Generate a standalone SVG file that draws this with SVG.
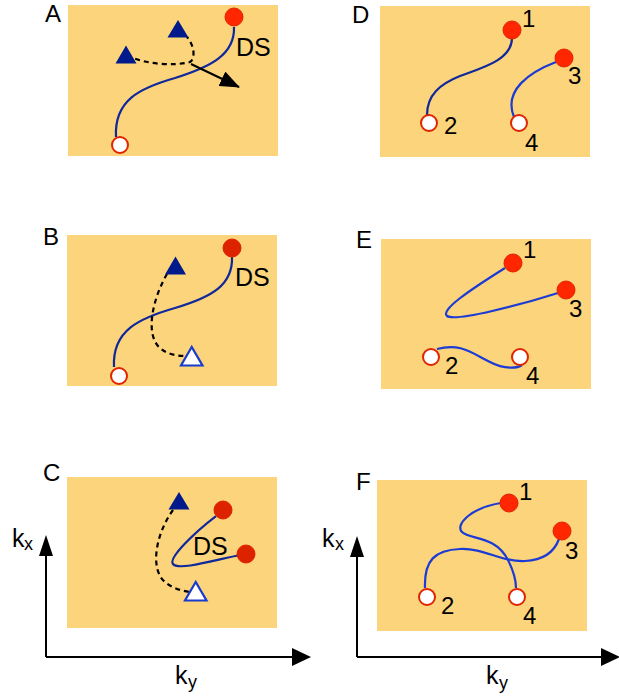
<svg xmlns="http://www.w3.org/2000/svg" width="619" height="698" viewBox="0 0 619 698">
<style>
.bg{fill:#fbd47c}
.lbl{font-family:"Liberation Sans",Arial,sans-serif;font-size:24px;fill:#000}
.num{font-family:"Liberation Sans",Arial,sans-serif;font-size:24px;fill:#000}
.ds{font-family:"Liberation Sans",Arial,sans-serif;font-size:25px;fill:#000}
.ax{font-family:"Liberation Sans",Arial,sans-serif;font-size:25px;fill:#000}
.sub{font-family:"Liberation Sans",Arial,sans-serif;font-size:18px;fill:#000}
.cv{fill:none;stroke:#10289a;stroke-width:2.2}
.cv2{fill:none;stroke:#1b3bd4;stroke-width:2.2}
.dash{fill:none;stroke:#000;stroke-width:2.2;stroke-dasharray:5 4}
.full{fill:#ff2600;stroke:#e02400;stroke-width:1}
.fullB{fill:#dd2200;stroke:#dd2200;stroke-width:1}
.open{fill:#fff;stroke:#e02400;stroke-width:2}
.tri{fill:#001a8c}
.otri{fill:#fff;stroke:#1a3acc;stroke-width:2.2}
.axis{stroke:#000;stroke-width:2;fill:none}
</style>
<defs>
<marker id="arr" viewBox="0 0 20 16" refX="19" refY="8" markerWidth="20" markerHeight="16" markerUnits="userSpaceOnUse" orient="auto">
<path d="M0,0 L20,8 L0,16 Z" fill="#000"/>
</marker>
</defs>

<g id="panelA">
<rect class="bg" x="68" y="5" width="210" height="151"/>
<text class="lbl" x="45" y="22">A</text>
<path class="cv" d="M116,137 C114,100 140,88 175,78 C210,67 235,55 234,27"/>
<path class="dash" d="M127,55 C145,65 175,66 190,62 C196,58 194,45 187,37"/>
<line x1="191" y1="64" x2="239" y2="87" stroke="#000" stroke-width="2" marker-end="url(#arr)"/>
<polygon class="tri" points="178,20 167.5,37.5 188.5,37.5"/>
<polygon class="tri" points="126,45.5 115.5,63.5 136.5,63.5"/>
<circle class="full" cx="234" cy="17" r="9"/>
<circle class="open" cx="120" cy="145" r="8"/>
<text class="ds" x="236" y="56">DS</text>
</g>

<g id="panelB">
<rect class="bg" x="67" y="235" width="210" height="151"/>
<text class="lbl" x="43" y="245">B</text>
<path class="cv" d="M114,367 C112,330 140,318 175,308 C212,297 233,285 232,257"/>
<path class="dash" d="M167,274 C152,300 145,335 160,348 C168,355 178,356 187,356"/>
<polygon class="tri" points="175.5,256.5 165,274.5 186,274.5"/>
<polygon class="otri" points="191.7,347 181,365.5 202.5,365.5"/>
<circle class="fullB" cx="232" cy="248" r="9"/>
<circle class="open" cx="119" cy="376" r="8"/>
<text class="ds" x="235" y="286">DS</text>
</g>

<g id="panelC">
<rect class="bg" x="67" y="477" width="210" height="151"/>
<text class="lbl" x="43" y="481">C</text>
<path class="cv" d="M216,516 C195,532 168,558 173,564 C178,571 215,560 240,555"/>
<path class="dash" d="M173,510 C155,535 150,570 165,582 C172,588 182,591 190,592"/>
<polygon class="tri" points="179,492 168.5,509.5 189.5,509.5"/>
<polygon class="otri" points="195.7,582 185,600.5 206.5,600.5"/>
<circle class="fullB" cx="223" cy="510" r="9"/>
<circle class="fullB" cx="246" cy="554" r="9"/>
<text class="ds" x="193" y="555">DS</text>
</g>

<g id="axesC">
<line class="axis" x1="46" y1="657" x2="46" y2="553"/>
<polygon points="46,535 39,556 53,556" fill="#000"/>
<line class="axis" x1="46" y1="657" x2="294" y2="657"/>
<polygon points="311,657 292,648 292,666" fill="#000"/>
<text class="ax" x="12" y="547">k</text><text class="sub" x="24" y="550">x</text>
<text class="ax" x="175" y="684">k</text><text class="sub" x="188" y="688">y</text>
</g>

<g id="panelD">
<rect class="bg" x="380" y="6" width="210" height="151"/>
<text class="lbl" x="352" y="23">D</text>
<path class="cv" d="M512,38 C512,60 482,68 460,76 C440,84 427,95 427,115"/>
<path class="cv2" d="M556,62 C530,72 503,90 514,117"/>
<circle class="full" cx="512" cy="30" r="9"/>
<circle class="full" cx="564" cy="58" r="9"/>
<circle class="open" cx="429" cy="123" r="8"/>
<circle class="open" cx="519" cy="123" r="8"/>
<text class="num" x="522" y="27">1</text>
<text class="num" x="568" y="84">3</text>
<text class="num" x="444" y="134">2</text>
<text class="num" x="525" y="151">4</text>
</g>

<g id="panelE">
<rect class="bg" x="381" y="239" width="210" height="150"/>
<text class="lbl" x="356" y="248">E</text>
<path class="cv2" d="M505,268 C470,290 440,310 447,316 C455,322 520,305 558,293"/>
<path class="cv2" d="M437,349 C460,343 470,352 490,362 C505,370 518,368 522,365"/>
<circle class="full" cx="513" cy="263" r="9"/>
<circle class="full" cx="566" cy="290" r="9"/>
<circle class="open" cx="431" cy="357" r="8"/>
<circle class="open" cx="520" cy="357" r="8"/>
<text class="num" x="523" y="258">1</text>
<text class="num" x="569" y="317">3</text>
<text class="num" x="445" y="374">2</text>
<text class="num" x="526" y="384">4</text>
</g>

<g id="panelF">
<rect class="bg" x="377" y="480" width="210" height="151"/>
<text class="lbl" x="356" y="490">F</text>
<path class="cv2" d="M501,503 C470,508 455,525 462,532 C470,540 495,535 508,560 C513,570 516,580 516,588"/>
<path class="cv2" d="M425,588 C424,560 435,550 460,549 C485,548 500,562 525,561 C545,560 555,550 559,539"/>
<circle class="full" cx="509" cy="503" r="9"/>
<circle class="full" cx="562" cy="531" r="9"/>
<circle class="open" cx="427" cy="597" r="8"/>
<circle class="open" cx="517" cy="597" r="8"/>
<text class="num" x="519" y="500">1</text>
<text class="num" x="565" y="559">3</text>
<text class="num" x="441" y="614">2</text>
<text class="num" x="523" y="624">4</text>
</g>

<g id="axesF">
<line class="axis" x1="357" y1="657" x2="357" y2="555"/>
<polygon points="357,536 350,557 364,557" fill="#000"/>
<line class="axis" x1="357" y1="657" x2="604" y2="657"/>
<polygon points="620,657 601,648 601,666" fill="#000"/>
<text class="ax" x="322" y="547">k</text><text class="sub" x="335" y="550">x</text>
<text class="ax" x="486" y="684">k</text><text class="sub" x="499" y="689">y</text>
</g>
</svg>
